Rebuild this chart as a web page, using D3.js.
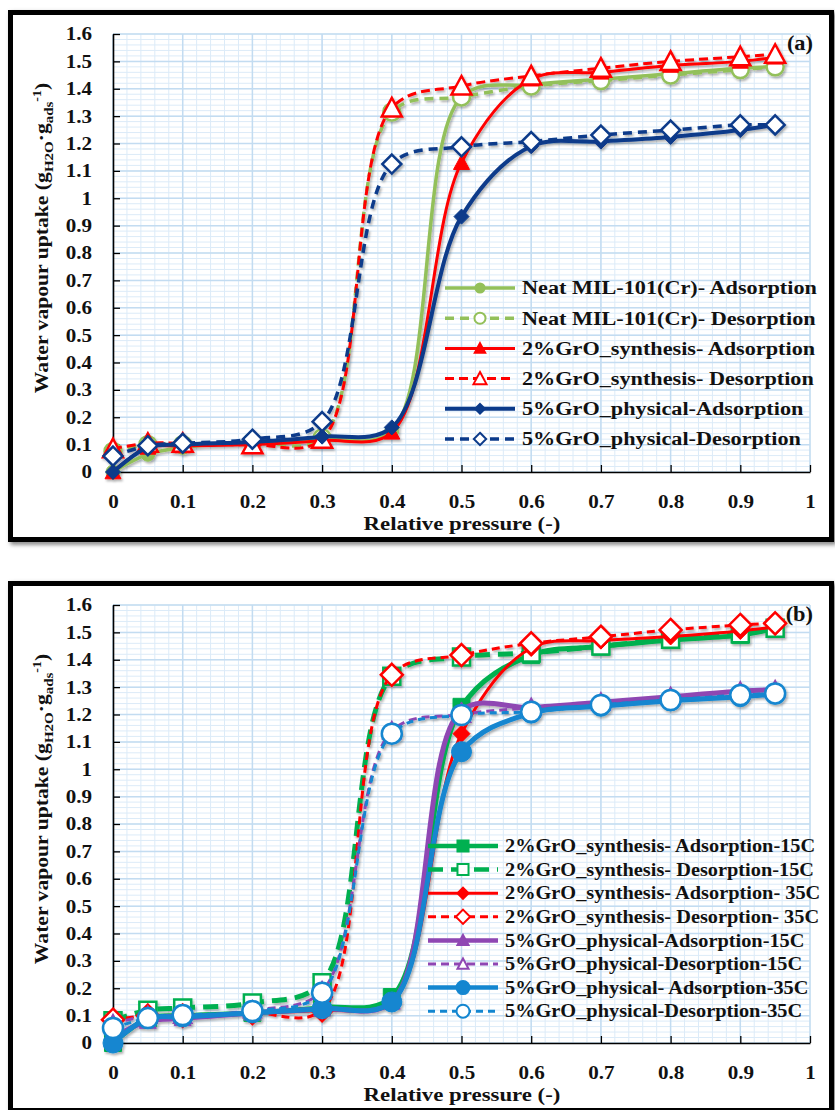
<!DOCTYPE html>
<html>
<head>
<meta charset="utf-8">
<script src="https://cdn.jsdelivr.net/npm/d3@7"></script>
<style>
  body { margin: 0; background: #fff; }
  svg text { font-family: "Liberation Serif", "Times New Roman", serif; font-weight: bold; fill: #111; }
</style>
</head>
<body>
<div id="chart"></div>
<script>
// ---- data ----
const xs = [0, 0.05, 0.1, 0.2, 0.3, 0.4, 0.5, 0.6, 0.7, 0.8, 0.9, 0.95];
const xTicks = [0, 0.1, 0.2, 0.3, 0.4, 0.5, 0.6, 0.7, 0.8, 0.9, 1];
const yTicks = [0, 0.1, 0.2, 0.3, 0.4, 0.5, 0.6, 0.7, 0.8, 0.9, 1, 1.1, 1.2, 1.3, 1.4, 1.5, 1.6];

// panel (a)
const namesA = [
  "Neat MIL-101(Cr)- Adsorption",
  "Neat MIL-101(Cr)- Desorption",
  "2%GrO_synthesis- Adsorption",
  "2%GrO_synthesis- Desorption",
  "5%GrO_physical-Adsorption",
  "5%GrO_physical-Desorption"
];
const neatAds = [0.00, 0.065, 0.09, 0.11, 0.12, 0.15, 1.37, 1.415, 1.435, 1.455, 1.475, 1.48];
const neatDes = [0.075, 0.10, 0.10, 0.11, 0.125, 1.315, 1.37, 1.41, 1.43, 1.45, 1.47, 1.48];
const syn2Ads = [0.00, 0.09, 0.095, 0.10, 0.115, 0.145, 1.13, 1.435, 1.46, 1.485, 1.50, 1.515];
const syn2Des = [0.085, 0.105, 0.105, 0.10, 0.12, 1.33, 1.41, 1.447, 1.475, 1.50, 1.517, 1.526];
const phy5Ads = [0.00, 0.09, 0.10, 0.11, 0.129, 0.163, 0.933, 1.19, 1.207, 1.224, 1.249, 1.268];
const phy5Des = [0.058, 0.096, 0.105, 0.12, 0.184, 1.125, 1.188, 1.207, 1.231, 1.249, 1.268, 1.268];

// panel (b)
const namesB = [
  "2%GrO_synthesis- Adsorption-15C",
  "2%GrO_synthesis- Desorption-15C",
  "2%GrO_synthesis- Adsorption- 35C",
  "2%GrO_synthesis- Desorption- 35C",
  "5%GrO_physical-Adsorption-15C",
  "5%GrO_physical-Desorption-15C",
  "5%GrO_physical- Adsorption-35C",
  "5%GrO_physical-Desorption-35C"
];
const syn15Ads = [0.00, 0.09, 0.10, 0.11, 0.13, 0.168, 1.228, 1.417, 1.448, 1.472, 1.49, 1.515];
const syn15Des = [0.081, 0.12, 0.128, 0.146, 0.22, 1.34, 1.41, 1.425, 1.45, 1.475, 1.495, 1.515];
const syn35Ads = [0.00, 0.09, 0.095, 0.11, 0.12, 0.15, 1.13, 1.443, 1.47, 1.485, 1.505, 1.52];
const syn35Des = [0.085, 0.10, 0.10, 0.11, 0.12, 1.345, 1.417, 1.46, 1.484, 1.509, 1.527, 1.533];
const phy15Ads = [0.02, 0.08, 0.09, 0.11, 0.125, 0.15, 1.215, 1.225, 1.245, 1.265, 1.285, 1.29];
const phy15Des = [0.07, 0.10, 0.10, 0.12, 0.19, 1.14, 1.20, 1.225, 1.245, 1.265, 1.285, 1.29];
const phy35Ads = [0.00, 0.09, 0.095, 0.11, 0.125, 0.15, 1.064, 1.205, 1.23, 1.25, 1.265, 1.275];
const phy35Des = [0.055, 0.091, 0.102, 0.117, 0.184, 1.13, 1.198, 1.21, 1.235, 1.253, 1.271, 1.277];

// ---- styles ----
const GREEN_A = "#93c05a", RED = "#ff0000", NAVY = "#0b3a8a";
const GREEN_B = "#00b050", PURPLE = "#8f47b3", BLUE = "#1386d0";
const STRETCH = 1.14; // serif text is drawn a bit wider, like the book face in the original

const seriesA = [
  { values: neatAds, color: GREEN_A, width: 3.5, dash: null, marker: "circle", filled: true, size: 14 },
  { values: neatDes, color: GREEN_A, width: 3.5, dash: "9,6", marker: "circle", filled: false, size: 17 },
  { values: syn2Ads, color: RED, width: 3, dash: null, marker: "triangle", filled: true, size: 16 },
  { values: syn2Des, color: RED, width: 3, dash: "9,5", marker: "triangle", filled: false, size: 20 },
  { values: phy5Ads, color: NAVY, width: 4, dash: null, marker: "diamond", filled: true, size: 15 },
  { values: phy5Des, color: NAVY, width: 3.5, dash: "9,6", marker: "diamond", filled: false, size: 19 }
].map((s, i) => ({ ...s, name: namesA[i] }));

const seriesB = [
  { values: syn15Ads, color: GREEN_B, width: 5, dash: null, marker: "square", filled: true, size: 17 },
  { values: syn15Des, color: GREEN_B, width: 5, dash: "15,8", marker: "square", filled: false, size: 17 },
  { values: syn35Ads, color: RED, width: 3, dash: null, marker: "diamond", filled: true, size: 17 },
  { values: syn35Des, color: RED, width: 3, dash: "8,5", marker: "diamond", filled: false, size: 22 },
  { values: phy15Ads, color: PURPLE, width: 5, dash: null, marker: "triangle", filled: true, size: 17 },
  { values: phy15Des, color: PURPLE, width: 3, dash: "8,5", marker: "triangle", filled: false, size: 17 },
  { values: phy35Ads, color: BLUE, width: 5, dash: null, marker: "circle", filled: true, size: 20 },
  { values: phy35Des, color: BLUE, width: 3, dash: "7,5", marker: "circle", filled: false, size: 20 }
].map((s, i) => ({ ...s, name: namesB[i] }));

const W = 835, H = 1110;
const svg = d3.select("#chart").append("svg").attr("width", W).attr("height", H);

const defs = svg.append("defs");
defs.append("filter").attr("id", "shadow")
  .attr("x", "-5%").attr("y", "-5%").attr("width", "110%").attr("height", "110%")
  .append("feDropShadow")
  .attr("dx", 1.5).attr("dy", 2).attr("stdDeviation", 1.3)
  .attr("flood-color", "#000").attr("flood-opacity", 0.3);
defs.append("filter").attr("id", "blur")
  .append("feGaussianBlur").attr("stdDeviation", 2);

const x = d3.scaleLinear().domain([0, 1]).range([113, 810]);
const y = d3.scaleLinear().domain([0, 1.6]).range([472, 34]);
const fmt = d => String(+d.toFixed(1));

function markerPath(type, s) {
  const h = s / 2;
  if (type === "circle") return d3.symbol(d3.symbolCircle, Math.PI * h * h)();
  if (type === "square") return `M${-h},${-h}H${h}V${h}H${-h}Z`;
  if (type === "diamond") return `M0,${-h}L${h},0L0,${h}L${-h},0Z`;
  return `M0,${-h}L${h},${h * 0.85}L${-h},${h * 0.85}Z`; // triangle
}

const line = d3.line()
  .x(d => x(d[0]))
  .y(d => y(d[1]))
  .curve(d3.curveCatmullRom.alpha(0.5));

function drawPanel(offset, series, leg, label) {
  const g = svg.append("g").attr("transform", `translate(0,${offset})`);

  // frame with shadow
  g.append("rect").attr("x", 13).attr("y", 15).attr("width", 821).attr("height", 527)
    .attr("fill", "none").attr("stroke", "#777").attr("stroke-width", 5).attr("filter", "url(#blur)");
  g.append("rect").attr("x", 10.5).attr("y", 12.5).attr("width", 821).attr("height", 527)
    .attr("fill", "#fff").attr("stroke", "#000").attr("stroke-width", 5);

  // minor grid
  const grid = g.append("g");
  grid.selectAll(".vmin").data(x.ticks(50)).join("line")
    .attr("x1", d => x(d)).attr("x2", d => x(d)).attr("y1", y(1.6)).attr("y2", y(0))
    .attr("stroke", "#dcebf8").attr("stroke-width", 1);
  grid.selectAll(".hmin").data(y.ticks(80)).join("line")
    .attr("x1", x(0)).attr("x2", x(1)).attr("y1", d => y(d)).attr("y2", d => y(d))
    .attr("stroke", "#dcebf8").attr("stroke-width", 1);
  // major grid
  grid.selectAll(".vmaj").data(xTicks).join("line")
    .attr("x1", d => x(d)).attr("x2", d => x(d)).attr("y1", y(1.6)).attr("y2", y(0))
    .attr("stroke", "#c3dcf1").attr("stroke-width", 1.5);
  grid.selectAll(".hmaj").data(yTicks).join("line")
    .attr("x1", x(0)).attr("x2", x(1)).attr("y1", d => y(d)).attr("y2", d => y(d))
    .attr("stroke", "#c3dcf1").attr("stroke-width", 1.5);

  // axes (ticks point inward)
  const ax = g.append("g").attr("transform", `translate(0,${y(0)})`)
    .call(d3.axisBottom(x).tickValues(xTicks).tickFormat(fmt).tickSize(-7).tickSizeOuter(0).tickPadding(23));
  const ay = g.append("g").attr("transform", `translate(${x(0)},0)`)
    .call(d3.axisLeft(y).tickValues(yTicks).tickFormat(fmt).tickSize(-7).tickSizeOuter(0).tickPadding(21));
  [ax, ay].forEach(a => {
    a.select(".domain").attr("stroke", "#000").attr("stroke-width", 1.6);
    a.selectAll(".tick line").attr("stroke", "#000").attr("stroke-width", 1.3);
    a.selectAll(".tick text").style("font-size", "18.5px").attr("fill", "#111");
  });
  ax.selectAll(".tick text").attr("transform", `scale(${STRETCH},1)`);
  ay.selectAll(".tick text").attr("x", -21 / STRETCH).attr("transform", `scale(${STRETCH},1)`);

  // series
  const sg = g.append("g").attr("filter", "url(#shadow)");
  series.forEach(s => {
    const pts = xs.map((v, i) => [v, s.values[i]]);
    const one = sg.append("g");
    one.append("path").attr("d", line(pts)).attr("fill", "none")
      .attr("stroke", s.color).attr("stroke-width", s.width)
      .attr("stroke-dasharray", s.dash).attr("stroke-linejoin", "round");
    one.selectAll("path.m").data(pts).join("path").attr("class", "m")
      .attr("transform", d => `translate(${x(d[0])},${y(d[1])})`)
      .attr("d", markerPath(s.marker, s.size))
      .attr("fill", s.filled ? s.color : "#fff")
      .attr("stroke", s.color).attr("stroke-width", s.filled ? 1 : 2.5);
  });

  // legend
  const lg = g.append("g");
  series.forEach((s, i) => {
    const ly = leg.y0 + i * leg.step;
    lg.append("line").attr("x1", leg.x0).attr("x2", leg.x1).attr("y1", ly).attr("y2", ly)
      .attr("stroke", s.color).attr("stroke-width", Math.min(s.width, 4.5))
      .attr("stroke-dasharray", s.dash);
    lg.append("path").attr("transform", `translate(${(leg.x0 + leg.x1) / 2},${ly})`)
      .attr("d", markerPath(s.marker, s.size * 0.65))
      .attr("fill", s.filled ? s.color : "#fff")
      .attr("stroke", s.color).attr("stroke-width", 2);
    lg.append("text").attr("transform", `translate(${leg.tx},${ly}) scale(${leg.stretch},1)`)
      .attr("dy", "0.33em")
      .style("font-size", leg.fs + "px").text(s.name);
  });

  // axis titles
  g.append("text").attr("transform", `translate(462,530) scale(1.17,1)`).attr("text-anchor", "middle")
    .style("font-size", "19.5px").text("Relative pressure (-)");

  const yt = g.append("text").attr("transform", `translate(48,238) rotate(-90) scale(1.11,1)`)
    .attr("text-anchor", "middle").style("font-size", "19.5px");
  yt.append("tspan").text("Water vapour uptake (g");
  yt.append("tspan").attr("dy", 5).style("font-size", "13.5px").text("H2O");
  yt.append("tspan").attr("dy", -5).text("·g");
  yt.append("tspan").attr("dy", 5).style("font-size", "13.5px").text("ads");
  yt.append("tspan").attr("dy", -12).style("font-size", "12.5px").text("-1");
  yt.append("tspan").attr("dy", 7).text(")");

  g.append("text").attr("transform", `translate(813,50) scale(1.12,1)`).attr("text-anchor", "end")
    .style("font-size", "20px").text(label);
}

drawPanel(0, seriesA, { y0: 288, step: 30.2, x0: 445, x1: 515, tx: 522, fs: 19.5, stretch: STRETCH }, "(a)");
drawPanel(571, seriesB, { y0: 275, step: 23.6, x0: 428, x1: 498, tx: 505, fs: 18.5, stretch: 1.1 }, "(b)");
</script>
</body>
</html>
